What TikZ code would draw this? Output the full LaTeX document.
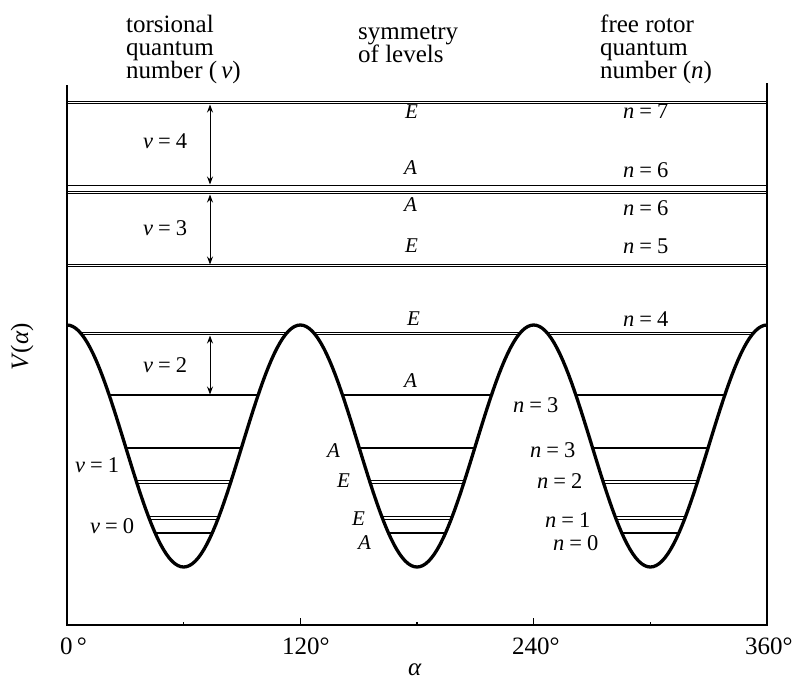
\documentclass[tikz,border=0pt]{standalone}
\usepackage{fontspec}
\setmainfont{Liberation Serif}
\usetikzlibrary{arrows.meta}
\begin{document}
\begin{tikzpicture}[x=1pt,y=-1pt,
  lvl/.style={line width=2pt},
  thinlvl/.style={line width=1.6pt},
  dlvl/.style={double, double distance=1.1pt, line width=1.3pt},
  axisline/.style={line width=2pt},
  curve/.style={line width=3.3pt, line join=round},
  gap/.style={{Stealth[length=8pt,width=6pt]}-{Stealth[length=8pt,width=6pt]}, line width=1pt},
  hdr/.style={anchor=base west, inner sep=0pt, font=\fontsize{25}{26}\selectfont},
  lab/.style={anchor=base west, inner sep=0pt, font=\fontsize{22.5}{24}\selectfont},
  sym/.style={anchor=base west, inner sep=0pt, font=\fontsize{21}{22}\selectfont},
  ax/.style={anchor=base west, inner sep=0pt, font=\fontsize{25}{27}\selectfont},
  tick/.style={line width=1.4pt}
]
\useasboundingbox (0,0) rectangle (795,681);

% level lines above the barrier
\draw[dlvl] (67,102.5) -- (767,102.5);
\draw[line width=1.4pt] (67,185.5) -- (767,185.5);
\draw[dlvl] (67,192.5) -- (767,192.5);
\draw[dlvl] (67,265.5) -- (767,265.5);

% level lines inside the wells
\begin{scope}
\clip (67,280) -- plot[domain=0:360,samples=241] ({67+1.944444*\x},{446-121*cos(3*\x)}) -- (767,280) -- cycle;
\draw[dlvl] (67,333.5) -- (767,333.5);
\draw[lvl] (67,395) -- (767,395);
\draw[thinlvl] (67,448) -- (767,448);
\draw[dlvl] (67,482) -- (767,482);
\draw[dlvl] (67,518) -- (767,518);
\draw[lvl] (67,533) -- (767,533);
\end{scope}

% potential curve
\draw[curve] plot[domain=0:360,samples=241] ({67+1.944444*\x},{446-121*cos(3*\x)});

% axes
\draw[axisline] (67,85) -- (67,625) -- (767,625) -- (767,83);
\foreach \a/\h in {60/3,120/7,180/3,240/7,300/3}
  \draw[tick] ({67+1.944444*\a},625) -- ++(0,-\h);

% arrows
\coordinate (g4t) at (210,104.5);
\coordinate (g4b) at (210,184.5);
\coordinate (g3t) at (210,194.5);
\coordinate (g3b) at (210,264.5);
\coordinate (g2t) at (210,335.5);
\coordinate (g2b) at (210,394.5);
\draw[gap] (g4t) -- (g4b);
\draw[gap] (g3t) -- (g3b);
\draw[gap] (g2t) -- (g2b);

% headers
\node[hdr] (h1a) at (126,32) {torsional};
\node[hdr] (h1b) at (126,55) {quantum};
\node[hdr] (h1c) at (126,78) {number (\,\textit{ν})};
\node[hdr] (h2a) at (358,39) {symmetry};
\node[hdr] (h2b) at (358,62) {of levels};
\node[hdr] (h3a) at (600,32) {free rotor};
\node[hdr] (h3b) at (600,55) {quantum};
\node[hdr] (h3c) at (600,78) {number (\textit{n})};

% torsional labels
\node[lab] (v4) at (143,148) {\textit{ν}\hspace{0.22em}=\hspace{0.22em}4};
\node[lab] (v3) at (143,235) {\textit{ν}\hspace{0.22em}=\hspace{0.22em}3};
\node[lab] (v2) at (143,372) {\textit{ν}\hspace{0.22em}=\hspace{0.22em}2};
\node[lab] (v1) at (75,472) {\textit{ν}\hspace{0.22em}=\hspace{0.22em}1};
\node[lab] (v0) at (90,533) {\textit{ν}\hspace{0.22em}=\hspace{0.22em}0};

% symmetry labels
\node[sym] (s1) at (405,118) {\textit{E}};
\node[sym] (s2) at (404,174) {\textit{A}};
\node[sym] (s3) at (404,211) {\textit{A}};
\node[sym] (s4) at (405,252) {\textit{E}};
\node[sym] (s5) at (407,325) {\textit{E}};
\node[sym] (s6) at (404,387) {\textit{A}};
\node[sym] (s7) at (327,457) {\textit{A}};
\node[sym] (s8) at (337,487) {\textit{E}};
\node[sym] (s9) at (352,525) {\textit{E}};
\node[sym] (s10) at (358,549) {\textit{A}};

% free rotor labels
\node[lab] (n7) at (623,118) {\textit{n}\hspace{0.22em}=\hspace{0.22em}7};
\node[lab] (n6a) at (623,177) {\textit{n}\hspace{0.22em}=\hspace{0.22em}6};
\node[lab] (n6b) at (623,215) {\textit{n}\hspace{0.22em}=\hspace{0.22em}6};
\node[lab] (n5) at (623,253) {\textit{n}\hspace{0.22em}=\hspace{0.22em}5};
\node[lab] (n4) at (623,326) {\textit{n}\hspace{0.22em}=\hspace{0.22em}4};
\node[lab] (n3a) at (513,412) {\textit{n}\hspace{0.22em}=\hspace{0.22em}3};
\node[lab] (n3b) at (530,457) {\textit{n}\hspace{0.22em}=\hspace{0.22em}3};
\node[lab] (n2) at (537,488) {\textit{n}\hspace{0.22em}=\hspace{0.22em}2};
\node[lab] (n1) at (545,527) {\textit{n}\hspace{0.22em}=\hspace{0.22em}1};
\node[lab] (n0) at (553,550) {\textit{n}\hspace{0.22em}=\hspace{0.22em}0};

% axis labels
\node[ax] (x0) at (60,654) {0\,°};
\node[ax] (x120) at (282,654) {120°};
\node[ax] (x240) at (512,654) {240°};
\node[ax] (x360) at (745,654) {360°};
\node[ax, anchor=center] (xal) at (415,670) {\textit{α}};
\node[ax, anchor=center, rotate=90] (yv) at (22,347) {\textit{V}(\textit{α})};
\end{tikzpicture}
\end{document}
